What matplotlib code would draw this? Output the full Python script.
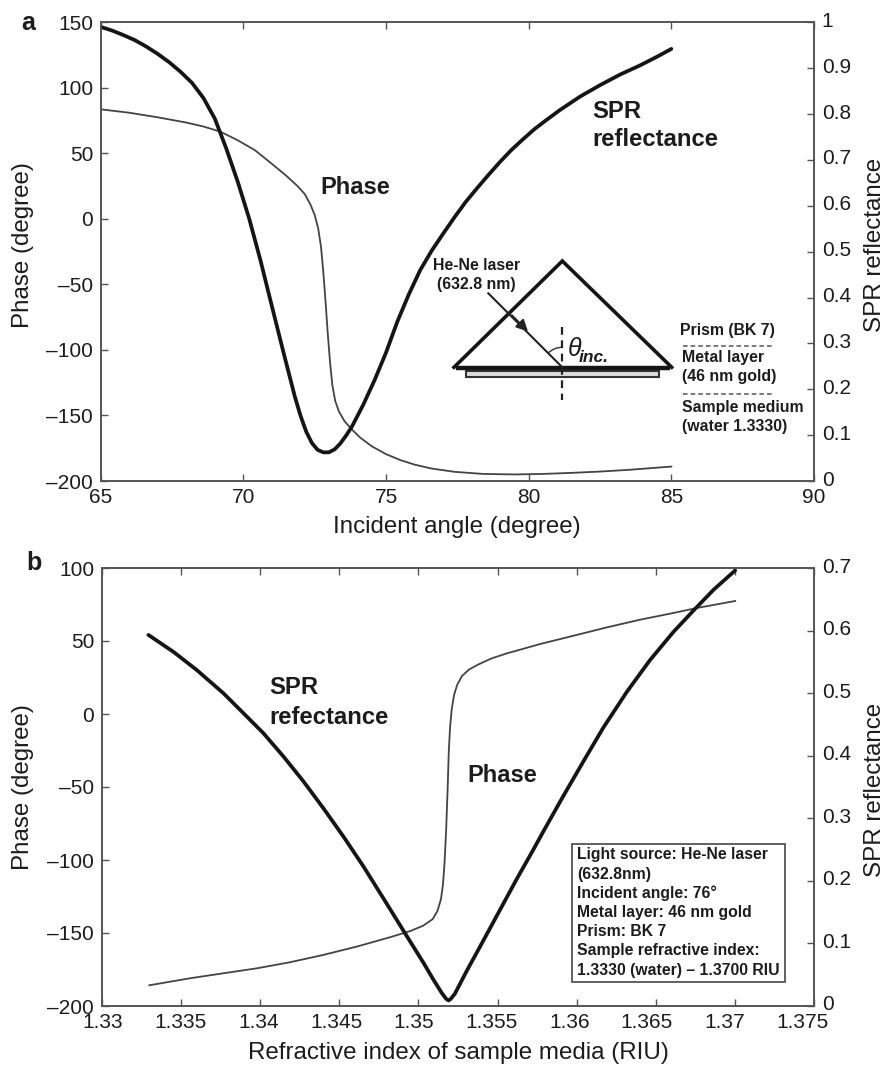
import matplotlib
matplotlib.use("Agg")
import matplotlib.pyplot as plt
from matplotlib.patches import Arc, Rectangle
from matplotlib.transforms import ScaledTranslation

plt.rcParams["font.family"] = ["Liberation Sans", "DejaVu Sans"]

W, H = 887, 1066
INK = "#1c1c1c"
SPINE = "#555555"

# panel a: incident angle sweep
angle_refl = [65.0, 65.4, 65.8, 66.2, 66.6, 67.0, 67.4, 67.8, 68.2, 68.6, 69.0, 69.4, 69.8, 70.2,
              70.6, 71.0, 71.4, 71.8, 72.0, 72.2, 72.4, 72.6, 72.8, 73.0, 73.2, 73.4, 73.6, 73.8,
              74.2, 74.6, 75.0, 75.4, 75.8, 76.2, 76.6, 77.0, 77.4, 77.8, 78.2, 78.6, 79.0, 79.4,
              79.8, 80.2, 80.6, 81.1, 81.8, 82.5, 83.2, 83.9, 84.5, 85.0]
refl_a = [0.99, 0.982, 0.972, 0.961, 0.947, 0.931, 0.913, 0.892, 0.868, 0.835, 0.79, 0.725, 0.653, 0.573,
          0.481, 0.381, 0.282, 0.185, 0.143, 0.108, 0.083, 0.068, 0.0625, 0.0625, 0.069, 0.082, 0.099, 0.118,
          0.166, 0.22, 0.28, 0.348, 0.407, 0.46, 0.502, 0.539, 0.575, 0.609, 0.639, 0.668, 0.696, 0.722,
          0.745, 0.767, 0.786, 0.809, 0.838, 0.863, 0.886, 0.906, 0.925, 0.942]
angle_phase = [65, 66, 67, 68, 68.6, 69.2, 69.8, 70.4, 71, 71.5, 71.9, 72.15, 72.35, 72.5, 72.62, 72.72,
               72.8, 72.88, 72.96, 73.04, 73.12, 73.22, 73.35, 73.55, 73.8, 74.1, 74.5, 75, 75.5, 76,
               76.6, 77.4, 78.4, 79.5, 80.5, 81.5, 82.5, 83.5, 85]
phase_a = [83.6, 81, 77.5, 73.5, 70.5, 66.5, 60, 52.5, 42, 33, 25, 19, 11, 3, -7, -21,
           -40, -63, -88, -110, -127, -139, -147, -154.5, -160.6, -167, -173.5, -179.5, -184, -187.5,
           -190.5, -193, -194.6, -195, -194.6, -193.8, -192.8, -191.5, -189]

# panel b: refractive index sweep
ri_refl = [1.33295, 1.33453, 1.336, 1.33768, 1.33895, 1.34021, 1.34147, 1.34274, 1.344, 1.34526,
           1.34653, 1.34779, 1.34926, 1.35032, 1.35095, 1.35147, 1.35175, 1.3519, 1.35205, 1.3523,
           1.35305, 1.35411, 1.35516, 1.35621, 1.35726, 1.35789, 1.35916, 1.36042, 1.36168, 1.36316,
           1.36463, 1.36611, 1.36737, 1.36863, 1.37]
refl_b = [0.593, 0.566, 0.537, 0.5, 0.468, 0.436, 0.399, 0.359, 0.316, 0.271,
          0.223, 0.172, 0.112, 0.069, 0.042, 0.021, 0.0115, 0.0088, 0.0115, 0.0195,
          0.056, 0.105, 0.154, 0.203, 0.25, 0.279, 0.336, 0.391, 0.445, 0.502,
          0.553, 0.598, 0.632, 0.665, 0.696]
ri_phase = [1.33301, 1.33558, 1.33768, 1.33979, 1.3419, 1.344, 1.34611, 1.34821, 1.3495, 1.3503,
            1.3509, 1.3512, 1.35142, 1.35155, 1.35165, 1.35175, 1.35185, 1.35192, 1.352, 1.3521,
            1.35225, 1.35245, 1.35275, 1.3532, 1.3538, 1.3546, 1.35558, 1.35768, 1.35979, 1.36189,
            1.364, 1.36611, 1.36758, 1.37]
phase_b = [-185.8, -181, -177.6, -174.2, -170, -165, -159.3, -152.9, -148.6, -145,
           -140.5, -135, -127, -117, -102, -80, -50, -25, -9, 3,
           13, 20, 26, 30.5, 34, 38, 41.5, 47.9, 53.6, 59.3,
           64.6, 69.2, 72.6, 77.4]

xticks_a = [65, 70, 75, 80, 85, 90]
yticks_a = [-200, -150, -100, -50, 0, 50, 100, 150]
ylabels_a = ["–200", "–150", "–100", "–50", "0", "50", "100", "150"]
rticks_a = [0, 0.1, 0.2, 0.3, 0.4, 0.5, 0.6, 0.7, 0.8, 0.9, 1]
rlabels_a = ["0", "0.1", "0.2", "0.3", "0.4", "0.5", "0.6", "0.7", "0.8", "0.9", "1"]

xticks_b = [1.33, 1.335, 1.34, 1.345, 1.35, 1.355, 1.36, 1.365, 1.37, 1.375]
xlabels_b = ["1.33", "1.335", "1.34", "1.345", "1.35", "1.355", "1.36", "1.365", "1.37", "1.375"]
yticks_b = [-200, -150, -100, -50, 0, 50, 100]
ylabels_b = ["–200", "–150", "–100", "–50", "0", "50", "100"]
rticks_b = [0, 0.1, 0.2, 0.3, 0.4, 0.5, 0.6, 0.7]
rlabels_b = ["0", "0.1", "0.2", "0.3", "0.4", "0.5", "0.6", "0.7"]

box_lines = ["Light source: He-Ne laser", "(632.8nm)", "Incident angle: 76°", "Metal layer: 46 nm gold",
             "Prism: BK 7", "Sample refractive index:", "1.3330 (water) – 1.3700 RIU"]


def make_panel(box, x_ph, y_ph, x_r, y_r, xlim, ylim, rlim, xt, xl, yt, yl, rt, rl):
    left, right, top, bottom = box
    ax = fig.add_axes([left / W, 1 - bottom / H, (right - left) / W, (bottom - top) / H])
    ax.plot(x_ph, y_ph, color="#444444", lw=1.3, solid_joinstyle="round")
    ax.set_xlim(*xlim)
    ax.set_ylim(*ylim)
    ax.set_xticks(xt, xl)
    ax.set_yticks(yt, yl)
    ax.tick_params(axis="x", top=True, direction="in", length=5, width=1, color=SPINE,
                   pad=5, labelsize=15, labelcolor=INK)
    ax.tick_params(axis="y", direction="in", length=5, width=1, color=SPINE,
                   pad=5.5, labelsize=15, labelcolor=INK)
    ax2 = ax.twinx()
    ax2.plot(x_r, y_r, color="#151515", lw=2.7, solid_joinstyle="round", solid_capstyle="round")
    ax2.set_ylim(*rlim)
    ax2.set_yticks(rt, rl)
    ax2.tick_params(axis="y", direction="in", length=5, width=1, color=SPINE,
                    pad=5.5, labelsize=15, labelcolor=INK)
    # right hand labels sit a little above their ticks in the original
    for lbl in ax2.get_yticklabels():
        lbl.set_transform(lbl.get_transform() + ScaledTranslation(0, 3 / 100, fig.dpi_scale_trans))
    for a in (ax, ax2):
        for s in a.spines.values():
            s.set_color(SPINE)
            s.set_linewidth(1.2)
    return ax, ax2


def label(x, y, s, size, weight="normal", ha="left", va="center", **kw):
    ov.text(x, y, s, fontsize=size, fontweight=weight, ha=ha, va=va, color=INK, **kw)


fig = plt.figure(figsize=(W / 100, H / 100), dpi=100)

make_panel((100.7, 814, 22.3, 481), angle_phase, phase_a, angle_refl, refl_a,
           (65, 90), (-200, 150), (0, 1), xticks_a, [str(v) for v in xticks_a],
           yticks_a, ylabels_a, rticks_a, rlabels_a)
# panel b x labels are set by hand below, they drift left of their ticks in the original
make_panel((101.7, 814.3, 568, 1006), ri_phase, phase_b, ri_refl, refl_b,
           (1.33, 1.375), (-200, 100), (0, 0.7), xticks_b, [""] * len(xticks_b),
           yticks_b, ylabels_b, rticks_b, rlabels_b)

# overlay in pixel coordinates for labels and the prism sketch
ov = fig.add_axes([0, 0, 1, 1], zorder=5)
ov.set_xlim(0, W)
ov.set_ylim(H, 0)
ov.axis("off")

for i, s in enumerate(xlabels_b):
    label(103 + 77.7 * i, 1022, s, 15, ha="center")

label(21, 23, "a", 18, "bold")
label(26, 563, "b", 18, "bold")
label(457, 527, "Incident angle (degree)", 17.4, ha="center")
label(458, 1053, "Refractive index of sample media (RIU)", 17.4, ha="center")
label(23, 245, "Phase (degree)", 17.4, ha="center", rotation=90)
label(23, 787, "Phase (degree)", 17.4, ha="center", rotation=90)
label(875, 245, "SPR reflectance", 17.4, ha="center", rotation=90)
label(875, 790, "SPR reflectance", 17.4, ha="center", rotation=90)

label(320, 188, "Phase", 17, "bold")
label(592, 111, "SPR", 17.2, "bold")
label(592, 140, "reflectance", 17.2, "bold")
label(269, 688, "SPR", 17.2, "bold")
label(269, 717, "refectance", 17.2, "bold")
label(467, 776, "Phase", 17, "bold")

# prism sketch
ov.plot([454, 562.3, 671.7], [367.3, 261, 367.3], color="#151515", lw=2.6, solid_joinstyle="miter")
ov.plot([456, 670], [367.6, 367.6], color="#151515", lw=3.2, solid_capstyle="butt")
ov.add_patch(Rectangle((466, 370.5), 193.3, 6.8, facecolor="#dddddd", edgecolor="#333333", lw=1.5))
ov.plot([562.3, 562.3], [327, 400], color="#222222", lw=1.6, ls=(0, (3.5, 2.5)))
ov.plot([488.3, 562.3], [293.3, 367.3], color="#222222", lw=1.5)
ov.annotate("", xy=(530, 333.5), xytext=(510, 313.5),
            arrowprops=dict(arrowstyle="-|>", color="#222222", lw=1.5, mutation_scale=17))
ov.add_patch(Arc((562.3, 367.3), 40, 40, theta1=225, theta2=270, color="#333333", lw=1))
ov.plot([683, 772], [345.5, 345.5], color="#555555", lw=1.1, ls=(0, (3, 2)))
ov.plot([683, 772], [393.5, 393.5], color="#555555", lw=1.1, ls=(0, (3, 2)))

label(476.7, 265.7, "He-Ne laser", 11.4, "bold", ha="center")
label(476.7, 284, "(632.8 nm)", 11.4, "bold", ha="center")
label(680, 330.7, "Prism (BK 7)", 11.4, "bold")
label(682, 357.7, "Metal layer", 11.4, "bold")
label(682, 376.7, "(46 nm gold)", 11.4, "bold")
label(682, 407.7, "Sample medium", 11.4, "bold")
label(682, 426.7, "(water 1.3330)", 11.4, "bold")
label(568, 349, "θ", 18, fontstyle="italic")
label(579, 357, "inc.", 12.5, "bold", fontstyle="italic")

# settings box
ov.add_patch(Rectangle((572, 844), 212.7, 138.3, facecolor="white", edgecolor=SPINE, lw=1.3))
for line, y in zip(box_lines, [854.7, 874, 893.3, 912.7, 931.7, 951, 970]):
    label(577, y, line, 11.3, "bold")

fig.savefig("out.png", dpi=100)
